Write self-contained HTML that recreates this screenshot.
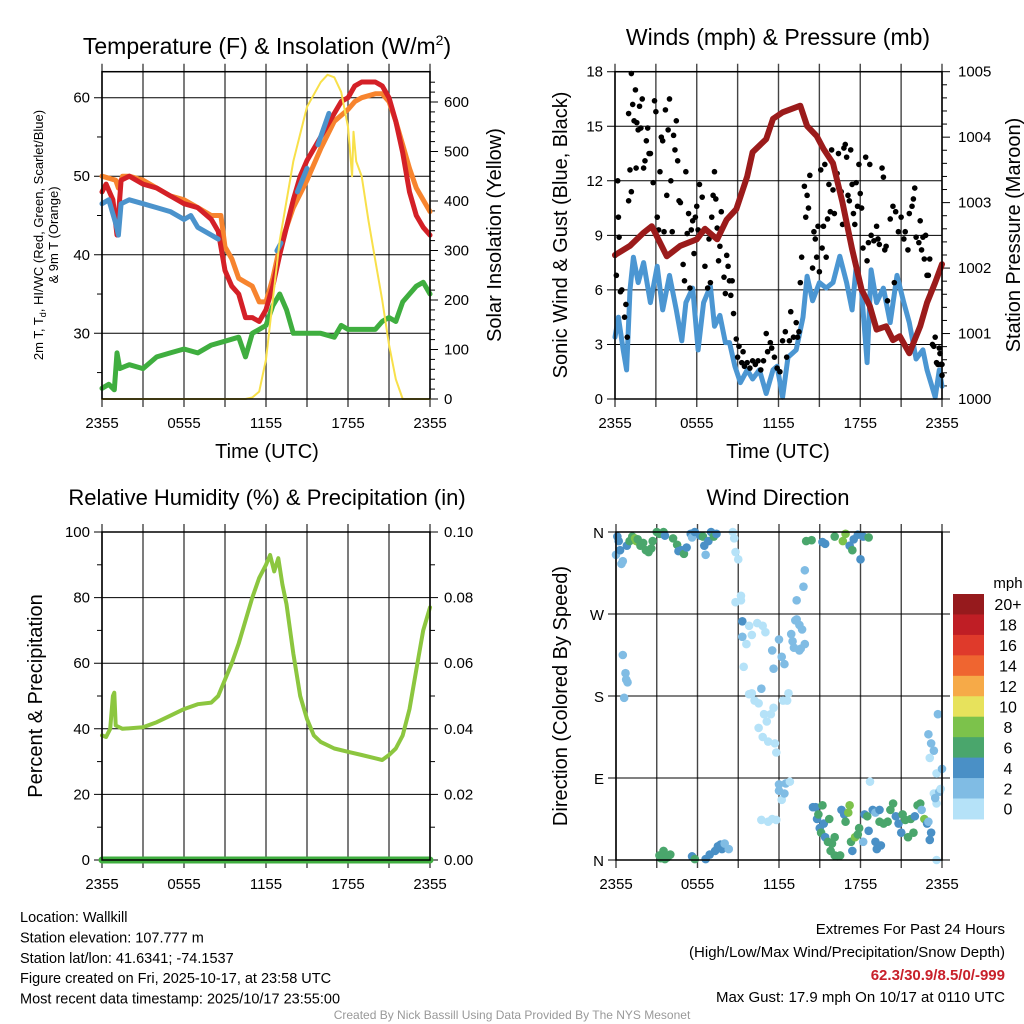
<!DOCTYPE html>
<html><head><meta charset="utf-8"><style>
html,body{margin:0;padding:0;background:#fff}
svg{display:block;font-family:"Liberation Sans",sans-serif}
</style></head><body>
<svg id="c" width="1024" height="1024" viewBox="0 0 1024 1024"></svg>
<script>
// ===== Data arrays (hours since 2355) =====
const timeTickLabels=["2355","0555","1155","1755","2355"];
const tempT=[[0,48],[0.3,49],[0.8,47],[1.1,42.5],[1.4,49.5],[2,50],[3,49],[4,48.5],[5,47.5],[6,46.5],[7,46],[8,44.5],[8.5,43],[9,38],[9.5,36],[10,35],[10.5,32],[11,32],[11.5,31.5],[12,33],[12.5,36],[13,40],[14,47],[14.5,50],[15,52],[16,55],[17,58],[17.5,59.5],[18,60],[18.5,61.5],[19,62],[20,62],[20.5,61.5],[21,60],[21.5,57],[22,53],[22.5,48],[23,45],[23.5,43.5],[24,42.5]];
const temp9m=[[0,50],[1,49.5],[1.2,48.5],[1.5,50],[2,50],[3,49.5],[4,48.5],[5,47.5],[6,47],[7,46],[8,45],[8.7,45],[9,41],[9.5,39.5],[10,37],[10.5,36.5],[11,36],[11.5,34],[12,34],[12.5,37],[13,41],[14,46],[15,49.5],[16,53.5],[17,57],[18,58.5],[18.5,59.5],[19,60],[20,60.5],[20.5,60.5],[21,59.5],[21.5,57],[22,54],[22.5,51],[23,48.5],[24,45.5]];
const heatIndex1=[[0,46.5],[0.5,47],[1,44],[1.2,42.5],[1.4,46.5],[2,47],[3,46.5],[4,46],[5,45.5],[6,44.5],[6.5,45],[7,43.5],[8,42.5],[8.5,42]];
const heatIndex2=[[12.8,40.5],[13.1,41.5]];
const heatIndex3=[[14.3,48],[15,51]];
const heatIndex4=[[15.8,54],[16.6,58]];
const dewT=[[0,23],[0.5,23.5],[0.9,22.8],[1.1,27.5],[1.3,25.5],[2,26],[3,25.5],[4,27],[5,27.5],[6,28],[7,27.5],[8,28.5],[9,29],[10,29.5],[10.5,27],[11,30],[11.5,30.5],[12,31],[12.5,33.5],[13,35],[13.5,33],[14,30],[15,30],[16,30],[17,29.5],[17.5,31],[18,30.5],[19,30.5],[20,30.5],[20.5,31.5],[21,32],[21.5,31.5],[22,34],[22.5,35],[23,36],[23.5,36.5],[24,35]];
const solar=[[0,0],[10.5,0],[11,3],[11.5,15],[12,80],[12.5,200],[13,320],[14,480],[15,590],[16,640],[16.5,655],[17,650],[17.5,620],[18,550],[18.3,450],[18.4,540],[18.6,480],[19,450],[19.5,360],[20,280],[20.5,200],[21,110],[21.5,40],[22,0],[24,0]];
const pressure=[[0,1002.2],[1.1,1002.34],[2.1,1002.54],[2.7,1002.64],[3.8,1002.18],[4.8,1002.34],[6,1002.44],[6.6,1002.6],[7.5,1002.44],[8.2,1002.74],[8.9,1002.9],[9.7,1003.4],[10.1,1003.77],[11.1,1003.97],[11.6,1004.28],[12.3,1004.38],[13.6,1004.48],[14.1,1004.17],[14.8,1004.02],[15.3,1003.82],[16,1003.6],[16.7,1003.0],[17.4,1002.29],[18.1,1001.67],[18.7,1001.42],[19.2,1001.06],[19.9,1001.11],[20.4,1000.9],[20.9,1000.96],[21.6,1000.7],[22.4,1001.11],[22.9,1001.47],[23.5,1001.78],[24,1002.06]];
const windSpd=[[0,3.4],[0.25,4.5],[0.6,2.7],[0.85,1.6],[1.1,6],[1.35,7.8],[1.7,6.4],[2.1,7.5],[2.6,5.3],[3.1,7.3],[3.5,4.9],[4,6.8],[4.5,4.9],[4.9,3.2],[5.2,5.3],[5.7,6.1],[6.1,2.7],[6.5,5.3],[7,6.2],[7.3,4],[7.7,4.6],[8.1,3.1],[8.4,3.1],[8.8,1.8],[9.2,0.9],[9.7,1.6],[10.1,1.1],[10.6,1.6],[11.1,0.3],[11.6,1.6],[11.9,1.8],[12.3,0.1],[12.7,2.3],[13.3,2.7],[13.8,4.5],[14.1,6.75],[14.5,5.4],[15,6.4],[15.5,6.1],[16,6.4],[16.5,7.85],[17,6.4],[17.4,4.9],[17.7,7.3],[18.1,5.9],[18.5,2],[18.8,7.1],[19.2,5.3],[19.7,6.1],[20.2,4.2],[20.7,6.8],[21.2,5.3],[21.6,4.2],[22.1,2.2],[22.6,2.7],[22.9,1.6],[23.5,0.1],[23.8,1.6],[24,0.7]];
const gustT=[0,0.1,0.2,0.25,0.3,0.4,0.5,0.7,0.8,0.9,1,1,1.1,1.2,1.3,1.2,1.4,1.5,1.55,1.6,1.7,1.8,1.9,2,2.1,2.2,2.3,2.4,2.5,2.6,2.8,2.9,3,3.1,3.2,3.3,3.4,3.5,3.6,3.7,3.8,3.9,4,4.1,4.2,4.3,4.4,4.5,4.6,4.7,4.8,5,5.1,5.2,5.3,5.4,5.5,5.6,5.7,5.8,5.9,6,6.1,6.2,6.4,6.6,6.8,6.9,7,7.1,7.2,7.3,7.4,7.5,7.6,7.7,7.8,8,8.1,8.2,8.3,8.4,8.5,8.6,8.7,8.9,9,9.1,9.3,9.4,9.5,9.7,9.9,10.1,10.3,10.5,10.7,10.9,11.1,11.2,11.4,11.5,11.7,11.9,12.1,12.3,12.5,12.6,12.8,12.9,13.1,13.3,13.4,13.5,13.6,13.7,13.9,14,14.1,14.2,14.3,14.5,14.6,14.7,14.8,14.9,15,15.1,15.2,15.3,15.4,15.5,15.6,15.7,15.8,15.9,16,16.1,16.3,16.4,16.6,16.7,16.8,16.9,17,17.1,17.2,17.3,17.4,17.5,17.6,17.7,17.8,17.9,18,18.1,18.2,18.4,18.5,18.6,18.7,18.8,19,19.2,19.3,19.4,19.6,19.7,19.8,19.9,20,20.2,20.4,20.5,20.6,20.8,21,21.2,21.3,21.5,21.6,21.8,21.9,22,22.1,22.3,22.4,22.5,22.6,22.7,22.8,22.9,23,23.1,23.2,23.3,23.4,23.5,23.6,23.7,23.8,23.9,24,23.85,24];
const gustV=[7.9,6.8,12,10,8.9,5.9,6,4.5,5.2,3.4,15.7,10.9,12.6,11.4,16.2,17.9,15.3,17,12.7,15.2,14.8,16.1,14.9,16.5,12.7,13.1,14.2,14.9,13.5,13.5,11.9,16.4,15.8,10,9.3,12.5,14.4,14.2,9.2,15.9,11.2,14.8,16.5,12,9.2,14.5,13.7,15.3,13.1,10.9,10.8,7.4,6.5,12.5,9.1,10.2,6.1,9.3,9.8,8,10,10.6,9.3,11.8,11.1,7.3,6.1,8.8,6.4,10,11.2,12.5,11,9.4,7.6,8.4,10.3,6.7,5.8,7.9,7.3,6.5,5.7,6.5,4.7,3.3,2.3,2.9,2,2.6,1.8,2,1.7,2.1,1.9,2.1,1.6,2.1,3.6,2.6,3.1,2.8,2.3,1.7,1.5,3.2,3.7,2.3,3.2,4.8,3.4,4.2,3.4,3.7,6.4,7.8,11.7,10,11.2,10.5,12.3,7.2,9.2,8.8,7.8,9.5,7,12.6,8.3,9.5,12.9,7.8,9.9,11.8,10.3,13.7,11.5,10.2,12.4,13.5,11.4,9.6,13.8,14,13.3,11.2,10.9,13.7,11.8,10.2,9.6,11.9,10.6,12.9,11.3,10.5,8.3,13.3,7.6,8.6,12.9,9,8.7,9.5,8.8,8.5,12.7,12.2,8.2,8.4,5.4,9.9,10.6,6.4,10.3,9.2,10,8.8,9.2,8.2,10.2,10.6,11,11.6,8.9,8.6,9.8,8.2,8.9,7.7,9,6.8,6.8,7.7,5.9,3,2.9,3.4,2,1.9,2.8,1.9,1.3,2.5,1.9];
const rh=[[0,38],[0.3,37.5],[0.6,40],[0.8,50],[0.9,51],[1,41],[1.5,40],[3,40.5],[4,42],[5,44],[6,46],[7,47.5],[8,48],[8.5,50],[9,55],[9.5,60],[10,66],[10.5,73],[11,80],[11.5,86],[12,90],[12.3,93],[12.6,88],[12.9,92],[13.2,84],[13.5,78],[14,63],[14.5,50],[15,43],[15.5,38],[16,36],[17,34],[18,33],[19,32],[20,31],[20.5,30.5],[21,32],[21.5,34],[22,38],[22.5,46],[23,58],[23.5,70],[24,77]];
const precip=[[0,0],[24,0]];
const dirT=[0,0.1,0.2,0.3,0.4,0.5,0.8,1,1.2,1.4,1.5,1.6,1.8,2,2.2,2.4,2.6,2.7,3,3.2,3.5,3.6,4.2,4.5,4.6,4.8,5,5.2,5.5,5.6,5.8,6.2,6.4,6.5,6.6,6.8,7,7.2,7.4,8.6,8.7,8.8,9,3.2,3.3,3.5,3.6,3.8,4,5.6,5.8,6.6,6.9,7.3,7.5,7.7,7.8,8,8.3,0.6,0.7,0.75,0.85,0.5,9.2,9.3,9.3,9.6,9.8,10,10.2,10.5,10.7,10.9,10.5,10.8,11.2,11.4,11.7,11.1,11.6,11.8,12,12,12.2,12.4,12.5,12.8,10.7,11.2,11.5,11.8,12,12.2,12.4,12.7,12.6,12.3,11.6,11.5,11,10.8,10.4,10,9.8,13,13.2,13.3,13.5,13.7,12.9,13.1,13.6,13.9,13.5,13.3,13.8,13.9,9.2,8.8,9.4,14,14.4,15.2,15.4,16.1,16.7,16.9,17.2,17.4,17.5,17.8,18.2,18,18.6,14.5,14.7,14.8,14.9,15.2,15,15.3,15.1,15.4,15.6,15.9,15.7,16.1,16.3,16.5,15.8,16.1,16.6,16.8,16.9,17.1,17.2,17.3,17.4,17.6,17.8,17.9,18.2,18.3,18.5,18.6,18.9,19.1,19.4,19.1,19.2,19.5,19.4,19.7,20,20.2,20.4,20.6,20.8,21,21.1,21.3,21.5,21.7,21.9,22,22.2,22.4,22.5,22.7,22.9,23.1,23,23.2,23,23.2,23.4,23.1,23.6,23.4,23.6,23.5,23.8,24,23.7,23.6,23.9,18.7];
const dirDeg=[335,355,350,340,325,328,345,350,355,353,350,352,345,348,340,338,342,350,360,358,360,356,353,346,339,340,336,343,358,354,360,356,355,345,335,350,360,355,358,360,353,338,330,5,2,10,1,3,6,4,1,1,6,10,15,17,12,18,12,178,205,198,195,225,290,245,262,237,182,183,175,172,188,160,145,135,130,160,128,152,167,118,83,76,66,73,84,86,44,42,45,44,242,223,215,183,175,175,210,230,250,257,260,247,257,240,263,264,258,253,248,233,232,237,230,285,300,318,285,283,212,350,351,349,347,355,350,358,345,340,352,357,355,330,354,58,58,45,50,60,35,40,30,25,20,18,45,5,4,5,10,25,55,50,42,52,60,20,10,25,28,35,20,50,48,32,55,52,55,20,12,16,42,40,42,55,62,48,40,30,50,44,25,45,30,48,60,62,55,45,40,22,42,30,138,128,120,112,95,73,62,68,75,100,160,0,78,86];
const dirSpd=[3,4,4,4,2,2,4,7,7,8,9,7,7,6,6,6,6,6,6,6,6,4,6,6,4,4,6,4,4,2,4,4,6,4,2,4,4,6,4,0,1,1,1,6,6,6,6,6,6,4,6,4,4,4,4,4,4,2,2,3,3,3,3,3,1,3,4,1,1,1,1,1,3,1,1,1,1,1,1,1,1,1,2,2,1,2,2,1,0,0,0,0,3,3,2,1,0,0,2,2,1,1,1,1,1,2,2,2,2,2,2,2,2,2,2,2,2,2,0,0,0,6,6,4,4,6,8,8,4,6,4,4,4,4,6,4,4,4,6,6,4,4,6,4,6,6,6,6,6,6,6,6,4,4,6,8,8,6,4,8,6,6,2,4,6,4,4,2,4,4,4,4,6,6,6,6,6,4,4,4,6,6,6,6,6,4,6,6,2,8,4,4,2,4,2,3,2,1,1,1,1,3,2,3,2,1,1,0,2,6];
const speedBins=["0","2","4","6","8","10","12","14","16","18","20+"];
const speedColors=["#b5e2f8","#80bce4","#4a90c6","#4aa66c","#7cc24b","#e7e25c","#f6aa48","#ef6530","#df3a2b","#bf1e25","#961a1d"];

const NS="http://www.w3.org/2000/svg";
const svg=document.getElementById('c');
function el(tag,attrs,parent,txt){const e=document.createElementNS(NS,tag);for(const k in attrs)e.setAttribute(k,attrs[k]);if(txt!==undefined)e.textContent=txt;(parent||svg).appendChild(e);return e;}
function lin(d0,d1,r0,r1){return v=>r0+(v-d0)/(d1-d0)*(r1-r0);}
function path(pts,fx,fy){return pts.map((p,i)=>(i?'L':'M')+fx(p[0]).toFixed(1)+','+fy(p[1]).toFixed(1)).join('');}

function frame(x0,x1,y0,y1,name){
  const g=el('g',{});
  
  
  return g;
}
function timeAxis(g,x0,x1,y0,y1,labelsY){
  const fx=lin(0,24,x0,x1);
  for(let h=0;h<=24;h+=3){
    const l=el('line',{x1:fx(h),x2:fx(h),y1:y0-8,y2:y1+8,stroke:'#444','stroke-width':1.4},g);
    
    
  }
  timeTickLabels.forEach((t,i)=>{
    const tx=el('text',{x:fx(i*6),y:labelsY,'font-size':15,'text-anchor':'middle'},g,t);
    
    
  });
  return fx;
}
function hGrid(g,x0,x1,y,leftTick){
  const l=el('line',{x1:x0-(leftTick?8:0),x2:x1,y1:y,y2:y,stroke:'#000','stroke-width':1},g);
  
  
}
function minor(g,x,y,dir){el('line',{x1:x,x2:x+dir*5,y1:y,y2:y,stroke:'#000','stroke-width':1},g);}
function text(g,x,y,s,size,anchor,name,rot,extra){
  const a={x:x,y:y,'font-size':size,'text-anchor':anchor||'middle'};
  if(rot)a.transform='rotate(-90 '+x+' '+y+')';
  if(extra)Object.assign(a,extra);
  const t=el('text',a,g,s);
  
  
  return t;
}
function series(g,pts,fx,fy,color,w,name){
  const p=el('path',{d:path(pts,fx,fy),fill:'none',stroke:color,'stroke-width':w,'stroke-linejoin':'round','stroke-linecap':'round'},g);
  
  
}

// ===== Panel 1 =====
(function(){
  const x0=102,x1=430,y0=71.7,y1=399;
  const g=frame(x0,x1,y0,y1,'temperature');
  const fy=lin(30,60,333.3,97.7), fs=lin(0,600,399,102);
  const fx=timeAxis(g,x0,x1,y0,y1,428);
  [30,40,50,60].forEach(v=>{hGrid(g,x0,x1,fy(v),true);text(g,x0-12,fy(v)+5,String(v),15,'end','left-y-tick-label');});
  [25,35,45,55].forEach(v=>minor(g,x0,fy(v),-1));
  for(let v=0;v<=650;v+=20){minor(g,x1,fs(v),v%100==0?1.6:1);}
  [0,100,200,300,400,500,600].forEach(v=>text(g,x1+14,fs(v)+5,String(v),15,'start','right-y-tick-label'));
  series(g,dewT,fx,fy,'#3fae3f',5,'dewpoint-line');
  series(g,temp9m,fx,fy,'#f7842e',5,'temp-9m-line');
  series(g,tempT,fx,fy,'#d42027',5,'temp-2m-line');
  [heatIndex1,heatIndex2,heatIndex3,heatIndex4].forEach(s=>series(g,s,fx,fy,'#4b93cc',5,'heat-index-line'));
  series(g,solar,fx,fs,'#f8e04a',2,'solar-insolation-line');
  el('rect',{x:x0,y:y0,width:x1-x0,height:y1-y0,fill:'none',stroke:'#000','stroke-width':1.5},g);
  const t=el('text',{x:267,y:54,'font-size':23,'text-anchor':'middle'},g);
  
  t.innerHTML='Temperature (F) &amp; Insolation (W/m<tspan dy="-9" font-size="14">2</tspan><tspan dy="9">)</tspan>';
  text(g,267,458,'Time (UTC)',20,'middle','x-axis-title');
  const lt=el('text',{x:43,y:235,'font-size':13,'text-anchor':'middle',transform:'rotate(-90 43 235)'},g);
  
  lt.innerHTML='2m T, T<tspan font-size="9" dy="3">d</tspan><tspan dy="-3">, HI/WC (Red, Green, Scarlet/Blue)</tspan>';
  text(g,58,235,'& 9m T (Orange)',13,'middle','left-y-axis-title-line2',true);
  text(g,501,235,'Solar Insolation (Yellow)',20,'middle','right-y-axis-title',true);
})();

// ===== Panel 2 =====
(function(){
  const x0=615,x1=942,y0=71.7,y1=399;
  const g=frame(x0,x1,y0,y1,'winds');
  const fy=lin(0,18,399,71.7), fp=lin(1000,1005,399,71.7);
  const fx=timeAxis(g,x0,x1,y0,y1,428);
  [0,3,6,9,12,15,18].forEach(v=>{hGrid(g,x0,x1,fy(v),true);text(g,x0-12,fy(v)+5,String(v),15,'end','left-y-tick-label');});
  for(let v=1000;v<=1005.01;v+=0.2)minor(g,x1,fp(v),Math.abs(v-Math.round(v))<0.01?1.6:1);
  [1000,1001,1002,1003,1004,1005].forEach(v=>text(g,x1+16,fp(v)+5,String(v),15,'start','right-y-tick-label'));
  series(g,windSpd,fx,fy,'#4b96d2',5,'sonic-wind-line');
  gustT.forEach((t,i)=>{const c=el('circle',{cx:fx(t),cy:fy(gustV[i]),r:2.8,fill:'#000'},g);
    });
  series(g,pressure,fx,fp,'#9b1b1b',6,'station-pressure-line');
  el('rect',{x:x0,y:y0,width:x1-x0,height:y1-y0,fill:'none',stroke:'#000','stroke-width':1.5},g);
  text(g,778,45,'Winds (mph) & Pressure (mb)',23,'middle','winds-chart-title');
  text(g,778,458,'Time (UTC)',20,'middle','x-axis-title');
  text(g,567,235,'Sonic Wind & Gust (Blue, Black)',20,'middle','left-y-axis-title',true);
  text(g,1020,235,'Station Pressure (Maroon)',20,'middle','right-y-axis-title',true);
})();

// ===== Panel 3 =====
(function(){
  const x0=102,x1=430,y0=532,y1=860;
  const g=frame(x0,x1,y0,y1,'humidity');
  const fy=lin(0,100,860,532), fp=lin(0,0.1,860,532);
  const fx=timeAxis(g,x0,x1,y0,y1,889);
  [0,20,40,60,80,100].forEach(v=>{hGrid(g,x0,x1,fy(v),true);text(g,x0-12,fy(v)+5,String(v),15,'end','left-y-tick-label');});
  [10,30,50,70,90].forEach(v=>minor(g,x0,fy(v),-1));
  for(let i=0;i<=10;i++){minor(g,x1,fp(i/100),i%2==0?1.6:1);}
  [0,0.02,0.04,0.06,0.08,0.1].forEach(v=>text(g,x1+14,fp(v)+5,v.toFixed(2),15,'start','right-y-tick-label'));
  series(g,rh,fx,fy,'#8cc63f',4,'relative-humidity-line');
  series(g,precip,fx,fp,'#3fae3f',7,'precipitation-line');
  el('rect',{x:x0,y:y0,width:x1-x0,height:y1-y0,fill:'none',stroke:'#000','stroke-width':1.5},g);
  text(g,267,505,'Relative Humidity (%) & Precipitation (in)',22,'middle','humidity-chart-title');
  text(g,42,696,'Percent & Precipitation',20,'middle','left-y-axis-title',true);
})();

// ===== Panel 4 =====
(function(){
  const x0=616,x1=942,y0=532,y1=860;
  const g=frame(x0,x1,y0,y1,'wind-direction');
  const fy=lin(0,360,860,532);
  const fx=timeAxis(g,x0,x1,y0,y1,889);
  const dl=["N","E","S","W","N"];
  dl.forEach((d,i)=>{hGrid(g,x0,x1+8,fy(i*90),true);text(g,x0-12,fy(i*90)+6,d,15,'end','direction-tick-label');});
  dirT.forEach((t,i)=>{
    let b=Math.min(10,Math.floor(dirSpd[i]/2));
    const c=el('circle',{cx:fx(t),cy:fy(dirDeg[i]),r:4.3,fill:speedColors[b]},g);
    
    
  });
  el('rect',{x:x0,y:y0,width:x1-x0,height:y1-y0,fill:'none',stroke:'#000','stroke-width':1.5},g);
  text(g,778,505,'Wind Direction',22,'middle','wind-direction-chart-title');
  text(g,567,696,'Direction (Colored By Speed)',20,'middle','left-y-axis-title',true);
  const cb=el('g',{},g);
  
  const top=594,h=20.45;
  speedBins.forEach((s,i)=>{
    const k=speedBins.length-1-i;
    const r=el('rect',{x:953,y:top+i*h,width:31,height:h+0.5,fill:speedColors[k]},cb);
    
    text(cb,1008,top+i*h+h/2+6,speedBins[k],16,'middle','colorbar-label');
  });
  text(cb,1008,588,'mph',15,'middle','colorbar-unit');
})();

// ===== Footer text =====
const leftInfo=["Location: Wallkill","Station elevation: 107.777 m","Station lat/lon: 41.6341; -74.1537","Figure created on Fri, 2025-10-17, at 23:58 UTC","Most recent data timestamp: 2025/10/17 23:55:00"];
leftInfo.forEach((s,i)=>text(svg,20,922+i*20.4,s,14.5,'start','station-info-line',false,{}));
text(svg,1005,934,'Extremes For Past 24 Hours',15,'end','extremes-title');
text(svg,1005,957,'(High/Low/Max Wind/Precipitation/Snow Depth)',15,'end','extremes-legend');
text(svg,1005,980,'62.3/30.9/8.5/0/-999',15,'end','extremes-values',false,{fill:'#c8202a','font-weight':'bold'});
text(svg,1005,1002,'Max Gust: 17.9 mph On 10/17 at 0110 UTC',15,'end','max-gust-text');
text(svg,512,1019,'Created By Nick Bassill Using Data Provided By The NYS Mesonet',12,'middle','credit-text',false,{fill:'#999'});
</script>
</body></html>
